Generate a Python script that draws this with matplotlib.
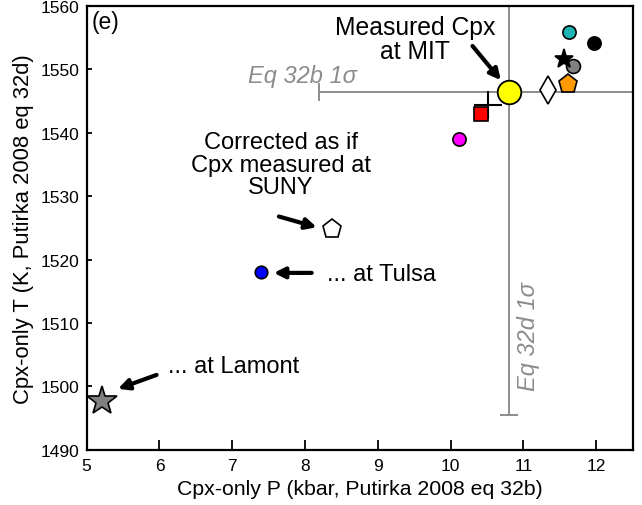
import matplotlib
matplotlib.use("Agg")
import matplotlib.pyplot as plt

plt.rcParams['font.family'] = ['Liberation Sans', 'DejaVu Sans']

# Cpx-only P and T for the reference Cpx and lab corrections
mit_p, mit_t = 10.80, 1546.4
err_p, err_t = 2.61, 51.0

suny_p, suny_t = 8.37, 1524.8
tulsa_p, tulsa_t = 7.39, 1518.0
lamont_p, lamont_t = 5.21, 1497.7

# other labs clustered near the MIT value
other_p = [10.12, 10.42, 10.51, 11.33, 11.61, 11.68, 11.55, 11.62, 11.97]
other_t = [1539.1, 1543.0, 1544.4, 1546.8, 1547.7, 1550.6, 1551.6, 1555.9, 1554.1]
other_style = [
    ('o', '#ff00ff', 9.5),
    ('s', '#ff0000', 10.5),
    ('+', 'black', 20),
    ('d', 'white', 14),
    ('p', '#ff9900', 14),
    ('o', '#808080', 10),
    ('*', 'black', 14),
    ('o', '#1fb5b5', 9.5),
    ('o', 'black', 9.5),
]

fig, ax = plt.subplots(figsize=(6.42, 5.06), dpi=100)
fig.subplots_adjust(left=0.135, right=0.9855, bottom=0.1093, top=0.986)

# 1 sigma of the Putirka equations around the MIT point
ax.errorbar(mit_p, mit_t, xerr=err_p, yerr=err_t, fmt='none',
            ecolor='#8c8c8c', elinewidth=1.4, capsize=6.2, capthick=1.4, zorder=1)

order = [2, 1, 0, 3, 4, 5, 6, 7, 8]
for i in order:
    m, c, s = other_style[i]
    if m == '+':
        ax.plot(other_p[i], other_t[i], m, color=c, ms=s, mew=1.5, zorder=2)
    else:
        ax.plot(other_p[i], other_t[i], m, mfc=c, mec='black', ms=s, mew=1.2, zorder=3)

ax.plot(suny_p, suny_t, 'p', mfc='white', mec='black', ms=14, mew=1.2, zorder=3)
ax.plot(tulsa_p, tulsa_t, 'o', mfc='#0000ff', mec='black', ms=9, mew=1.2, zorder=3)
ax.plot(lamont_p, lamont_t, '*', mfc='#808080', mec='black', ms=22, mew=1.2, zorder=3)
ax.plot(mit_p, mit_t, 'o', mfc='#ffff00', mec='black', ms=17, mew=1.3, zorder=4)

arrow = dict(arrowstyle='-|>', lw=3, color='black', mutation_scale=16, shrinkA=0, shrinkB=0)
ax.annotate('', xy=(10.69, 1548.3), xytext=(10.30, 1553.7), arrowprops=arrow)
ax.annotate('', xy=(8.16, 1525.1), xytext=(7.64, 1526.8), arrowprops=arrow)
ax.annotate('', xy=(7.57, 1517.9), xytext=(8.09, 1517.9), arrowprops=arrow)
ax.annotate('', xy=(5.43, 1499.6), xytext=(5.96, 1501.8), arrowprops=arrow)

fs = 17
ax.text(9.51, 1554.8, 'Measured Cpx\nat MIT', ha='center', va='center',
        fontsize=17.8, linespacing=1.0)
ax.text(7.67, 1535.0, 'Corrected as if\nCpx measured at\nSUNY', ha='center', va='center',
        fontsize=fs, linespacing=1.05)
ax.text(8.30, 1517.8, '... at Tulsa', ha='left', va='center', fontsize=fs)
ax.text(6.12, 1503.2, '... at Lamont', ha='left', va='center', fontsize=fs)
ax.text(5.07, 1557.5, '(e)', ha='left', va='center', fontsize=16.5)

ax.text(7.96, 1549.0, 'Eq 32b 1σ', ha='center', va='center', fontsize=17,
        style='italic', color='#8c8c8c')
ax.text(11.07, 1508.0, 'Eq 32d 1σ', ha='center', va='center', fontsize=17,
        style='italic', color='#8c8c8c', rotation=90)

ax.set_xlim(5, 12.5)
ax.set_ylim(1490, 1560)
ax.set_xticks(range(5, 13))
ax.set_yticks(range(1490, 1561, 10))
ax.tick_params(axis='x', direction='in', length=7.5, width=1.3, labelsize=12.5, pad=6)
ax.tick_params(axis='y', direction='in', length=3.5, width=1.3, labelsize=12.5, pad=5)
for sp in ax.spines.values():
    sp.set_linewidth(1.6)

ax.set_xlabel('Cpx-only P (kbar, Putirka 2008 eq 32b)', fontsize=15.3, labelpad=4)
ax.set_ylabel('Cpx-only T (K, Putirka 2008 eq 32d)', fontsize=15.8, labelpad=5)

fig.savefig('out.png', dpi=100)
